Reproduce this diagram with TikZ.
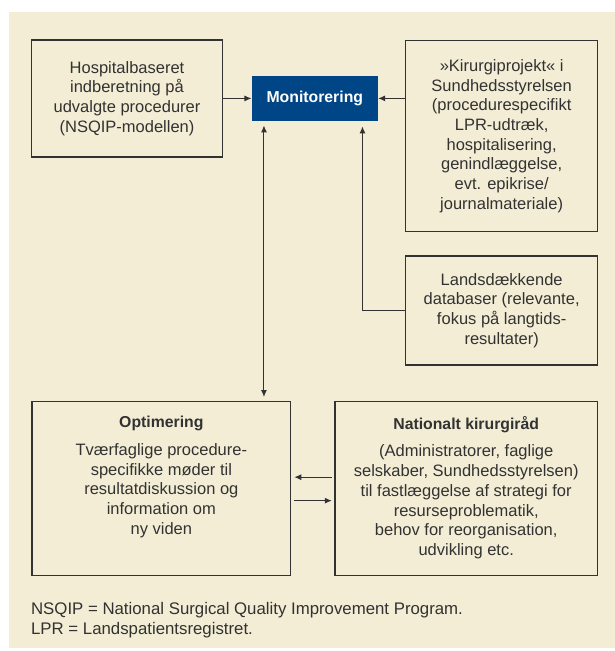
\documentclass[tikz,border=0pt]{standalone}
\usepackage{fontspec}
\setmainfont{Liberation Sans}
\usetikzlibrary{arrows.meta,positioning}
\definecolor{beige}{RGB}{243,237,213}
\definecolor{monblue}{RGB}{0,70,135}
\definecolor{ink}{RGB}{50,50,50}
\newcommand{\ttlfont}{\fontsize{15.8bp}{19.7bp}\selectfont\bfseries}

\begin{document}
\begin{tikzpicture}[x=1bp,y=-1bp,>={Latex[length=7bp,width=6bp]},
    line width=1bp,color=ink,
    font=\fontsize{16.5bp}{19.7bp}\selectfont,
    box/.style={draw=ink,line width=1.3bp,inner sep=0pt,align=center},
    mon/.style={fill=monblue,inner sep=0pt,text=white,font=\ttlfont},
    txt/.style={inner sep=0pt,align=center}]
  \useasboundingbox (0,0) rectangle (615,651);
  \fill[beige] (9,12.5) rectangle (615,648);

  % top row
  \node[box,minimum width=191bp,minimum height=117bp] (hosp) at (127,98.4)
    {Hospitalbaseret\\indberetning på\\udvalgte procedurer\\(NSQIP-modellen)};
  \node[mon,minimum width=125.7bp,minimum height=45bp,right=28.3bp of hosp] (mon) {Monitorering};
  \node[box,minimum width=192bp,minimum height=191bp,anchor=north west] (kir) at (405,40)
    {»Kirurgiprojekt« i\\Sundhedsstyrelsen\\(procedurespecifikt\\LPR-udtræk,\\hospitalisering,\\genindlæggelse,\\evt. epikrise/\\journalmateriale)};
  \node[box,minimum width=192bp,minimum height=109bp,below=23bp of kir] (land)
    {Landsdækkende\\databaser (relevante,\\fokus på langtids-\\resultater)};

  % bottom row
  \node[box,minimum width=258.6bp,minimum height=174bp,anchor=north west] (opt) at (31.4,401) {};
  \node[box,minimum width=262.5bp,minimum height=174bp,right=43bp of opt] (nat) {};
  \node[txt,anchor=north] (opttxt) at ([yshift=-15bp]opt.north)
    {{\ttlfont Optimering}\\[7.7bp]Tværfaglige procedure-\\specifikke møder til\\resultatdiskussion og\\information om\\ny viden};
  \node[txt,anchor=north] (nattxt) at ([yshift=-15bp]nat.north)
    {{\ttlfont Nationalt kirurgiråd}\\[7.7bp](Administratorer, faglige\\selskaber, Sundhedsstyrelsen)\\til fastlæggelse af strategi for\\resurseproblematik,\\behov for reorganisation,\\udvikling etc.};

  % connectors
  \draw[->] (hosp) -- (mon);
  \draw[->] (kir.west |- mon) -- (mon);
  \draw[<->,shorten <=4bp,shorten >=4bp] ([xshift=12.5bp]mon.south west) -- ([xshift=12.5bp]mon.south west |- opt.north);
  \draw[->,shorten >=5bp] (land.west) -| ([xshift=-15.7bp]mon.south east);
  \draw[->,shorten <=2.5bp,shorten >=3bp] ([yshift=11.5bp]nat.west) -- ([yshift=11.5bp]opt.east);
  \draw[->,shorten <=3bp,shorten >=2.5bp] ([yshift=-12bp]opt.east) -- ([yshift=-12bp]nat.west);

  \node[inner sep=0pt,align=left,anchor=north west,font=\fontsize{16.8bp}{20bp}\selectfont] (note) at (30.6,602)
    {NSQIP = National Surgical Quality Improvement Program.\\LPR = Landspatientsregistret.};
\end{tikzpicture}
\end{document}
